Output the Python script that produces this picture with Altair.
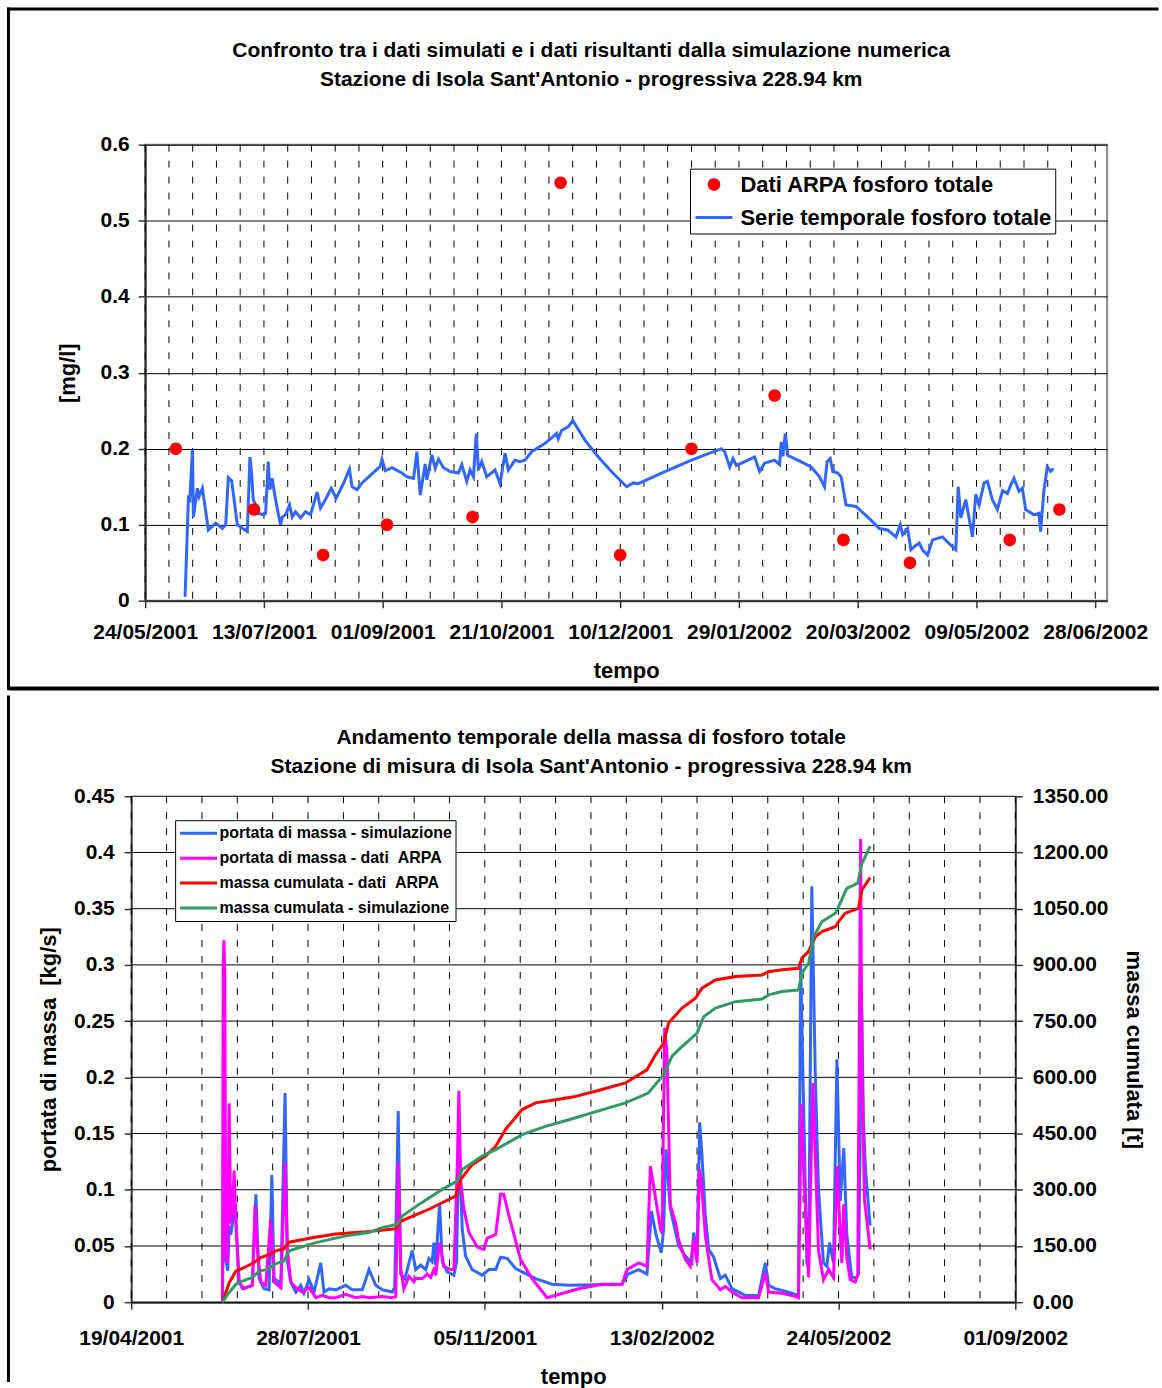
import altair as alt
import pandas as pd

FONT = "Liberation Sans"

# ---------------------------------------------------------------- top chart data
TOP_BASE = "2001-05-24"
top_tick_days = [0, 50, 100, 150, 200, 250, 300, 350, 400]
top_grid_days = list(range(0, 401, 10))
top_domain_days = [0, 405]
top_y_ticks = [0, 0.1, 0.2, 0.3, 0.4, 0.5, 0.6]
top_series = ["Dati ARPA fosforo totale", "Serie temporale fosforo totale"]
top_colors = ["#FF0000", "#3366FF"]

arpa_days = [12.9, 45.8, 74.9, 101.8, 137.8, 174.9, 200.0, 230.0, 265.0, 294.0, 322.0, 364.0, 384.9]
arpa_vals = [0.20, 0.12, 0.06, 0.10, 0.11, 0.55, 0.06, 0.20, 0.27, 0.08, 0.05, 0.08, 0.12]

serie_days = [16.8, 18.2, 18.8, 19.9, 20.3, 22.0, 22.7, 24.1, 26.6, 29.7, 32.5, 33.9, 35.0, 36.4,
              38.8, 40.2, 43.0, 44.1, 44.8, 45.5, 46.5, 47.2, 50.0, 50.7, 51.8, 52.5, 53.5, 54.2,
              54.9, 56.3, 57.0, 57.7, 59.1, 60.8, 61.9, 63.3, 65.4, 67.5, 69.6, 72.4, 73.8, 75.9,
              78.3, 80.4, 83.6, 86.0, 87.1, 89.2, 91.3, 95.5, 99.0, 99.7, 101.1, 103.9, 108.1,
              110.2, 113.0, 114.4, 115.8, 117.9, 118.6, 120.7, 122.1, 123.5, 125.6, 128.4, 131.9,
              133.3, 135.4, 136.8, 138.2, 139.4, 140.3, 141.7, 143.8, 147.3, 149.4, 151.5, 152.9,
              155.7, 157.8, 159.9, 162.7, 168.4, 173.2, 173.9, 175.3, 178.2, 180.0, 185.2, 190.8,
              196.3, 202.7, 205.5, 207.6, 217.4, 230.0, 242.6, 244.0, 246.1, 247.5, 248.9, 252.4,
              256.6, 258.7, 260.8, 265.0, 267.1, 267.8, 268.5, 269.5, 270.6, 274.8, 280.4, 283.9,
              286.0, 287.1, 288.4, 289.5, 291.6, 293.0, 295.1, 299.3, 305.6, 309.1, 312.6, 316.1,
              317.9, 318.9, 321.0, 322.4, 323.8, 325.9, 327.3, 329.4, 331.5, 335.7, 339.2, 341.3,
              342.3, 343.4, 345.5, 348.3, 349.7, 351.1, 353.2, 354.6, 356.7, 358.8, 361.0, 363.0,
              364.4, 365.8, 367.9, 369.3, 370.7, 374.2, 376.3, 377.0, 378.4, 379.8, 381.2, 382.4]
serie_vals = [0.005, 0.135, 0.133, 0.199, 0.110, 0.148, 0.137, 0.148, 0.093, 0.102, 0.095, 0.100, 0.162, 0.158,
              0.100, 0.097, 0.091, 0.189, 0.168, 0.133, 0.126, 0.115, 0.113, 0.115, 0.183, 0.146, 0.161, 0.146,
              0.133, 0.110, 0.100, 0.110, 0.113, 0.126, 0.110, 0.117, 0.109, 0.117, 0.113, 0.143, 0.122, 0.133,
              0.148, 0.135, 0.155, 0.173, 0.150, 0.146, 0.155, 0.167, 0.177, 0.186, 0.171, 0.175, 0.168,
              0.163, 0.161, 0.196, 0.139, 0.180, 0.159, 0.192, 0.174, 0.186, 0.175, 0.170, 0.168,
              0.179, 0.157, 0.172, 0.163, 0.220, 0.172, 0.183, 0.163, 0.172, 0.154, 0.194, 0.172,
              0.185, 0.183, 0.185, 0.196, 0.207, 0.220, 0.213, 0.224, 0.229, 0.237, 0.211, 0.189,
              0.170, 0.150, 0.155, 0.154, 0.168, 0.185, 0.200, 0.196, 0.176, 0.187, 0.178, 0.183,
              0.189, 0.170, 0.181, 0.185, 0.179, 0.209, 0.190, 0.220, 0.191, 0.185, 0.176, 0.163,
              0.150, 0.183, 0.187, 0.170, 0.168, 0.163, 0.126, 0.124, 0.106, 0.095, 0.093, 0.084,
              0.100, 0.087, 0.095, 0.067, 0.071, 0.076, 0.067, 0.060, 0.080, 0.084, 0.073, 0.067,
              0.150, 0.109, 0.133, 0.084, 0.140, 0.126, 0.155, 0.157, 0.133, 0.120, 0.145, 0.141,
              0.152, 0.161, 0.144, 0.148, 0.120, 0.113, 0.115, 0.091, 0.145, 0.176, 0.170, 0.174]

# ---------------------------------------------------------------- bottom chart data
BOT_BASE = "2001-04-19"
bot_tick_days = [0, 100, 200, 300, 400, 500]
bot_grid_days = list(range(0, 501, 20))
bot_domain_days = [0, 500]
bot_left_ticks = [0, 0.05, 0.1, 0.15, 0.2, 0.25, 0.3, 0.35, 0.4, 0.45]
bot_right_ticks = [0, 150, 300, 450, 600, 750, 900, 1050, 1200, 1350]
bot_series = ["portata di massa - simulazione", "portata di massa - dati \u00a0ARPA",
              "massa cumulata - dati \u00a0ARPA", "massa cumulata - simulazione"]
bot_colors = ["#3366FF", "#FF00FF", "#FF0000", "#339966"]

sim_days = [51.6, 52.4, 53.5, 54.6, 55.4, 56.3, 57.2, 58.8, 61.0, 62.9, 68.5, 70.5, 72.3, 75.1, 78.0,
            79.5, 80.8, 83.6, 84.6, 87.0, 88.3, 90.2, 93.1, 95.9, 97.7, 100.6, 103.4, 107.2, 109.0,
            111.9, 115.7, 121.3, 125.0, 130.7, 134.5, 138.3, 142.0, 147.6, 149.0, 151.0, 152.4, 154.8,
            157.1, 158.9, 160.9, 163.7, 166.5, 168.4, 170.2, 171.2, 172.2, 174.4, 175.9, 178.7, 182.5,
            184.0, 185.3, 187.2, 189.1, 192.8, 198.5, 202.3, 206.1, 208.9, 212.6, 217.4, 221.1, 228.7,
            238.0, 247.5, 277.6, 281.0, 287.0, 291.7, 294.2, 296.8, 299.8, 301.1, 302.4, 304.9, 309.6,
            313.4, 317.1, 318.1, 320.0, 321.5, 322.8, 324.7, 326.6, 329.4, 333.2, 336.0, 339.7, 347.3,
            354.8, 358.6, 360.5, 364.2, 371.8, 377.4, 378.6, 380.2, 382.1, 383.1, 384.9, 386.9, 388.7,
            391.5, 393.4, 394.9, 397.2, 399.1, 401.0, 403.0, 404.7, 407.5, 410.4, 411.3, 413.2, 414.1,
            415.4, 417.9]
sim_vals = [0.002, 0.118, 0.037, 0.028, 0.068, 0.060, 0.070, 0.088, 0.018, 0.012, 0.015, 0.096, 0.021, 0.012, 0.011,
            0.113, 0.021, 0.018, 0.012, 0.186, 0.037, 0.018, 0.009, 0.015, 0.008, 0.020, 0.009, 0.035, 0.009,
            0.012, 0.011, 0.015, 0.011, 0.011, 0.029, 0.015, 0.011, 0.009, 0.013, 0.170, 0.025, 0.021,
            0.035, 0.046, 0.029, 0.033, 0.029, 0.039, 0.036, 0.053, 0.033, 0.088, 0.036, 0.027, 0.024,
            0.036, 0.148, 0.065, 0.041, 0.029, 0.024, 0.029, 0.029, 0.040, 0.039, 0.030, 0.027, 0.021,
            0.016, 0.015, 0.016, 0.025, 0.029, 0.025, 0.081, 0.060, 0.044, 0.065, 0.136, 0.083, 0.050,
            0.041, 0.035, 0.062, 0.041, 0.160, 0.130, 0.077, 0.047, 0.040, 0.021, 0.024, 0.012, 0.006,
            0.006, 0.035, 0.015, 0.012, 0.009, 0.006, 0.300, 0.180, 0.035, 0.030, 0.370, 0.200, 0.100,
            0.035, 0.032, 0.053, 0.035, 0.216, 0.090, 0.137, 0.060, 0.022, 0.022, 0.025, 0.260, 0.160,
            0.115, 0.068]

arpa_flow_days = [51.6, 52.0, 52.4, 52.9, 53.5, 54.4, 55.4, 56.3, 57.2, 58.2, 59.2, 61.0, 63.8, 68.5,
                  70.1, 71.4, 73.3, 76.1, 78.9, 80.8, 84.6, 87.0, 88.3, 90.2, 93.1, 96.8, 100.6, 104.4,
                  108.1, 111.9, 115.7, 121.3, 127.0, 130.7, 134.5, 142.0, 147.6, 149.6, 151.0, 152.4,
                  154.2, 157.1, 159.9, 160.9, 164.6, 167.4, 169.3, 171.2, 172.2, 174.4, 176.8, 180.6,
                  182.5, 184.4, 185.3, 186.3, 188.1, 191.0, 195.7, 199.4, 201.3, 206.1, 208.9, 210.7,
                  213.6, 220.2, 226.7, 235.2, 253.1, 266.3, 277.6, 280.4, 287.0, 291.7, 293.6, 295.5,
                  299.3, 300.2, 301.7, 303.0, 304.9, 307.8, 309.6, 313.4, 316.2, 318.1, 320.0, 321.3,
                  322.8, 324.7, 328.4, 333.2, 336.0, 339.7, 345.4, 354.8, 358.6, 360.5, 368.0, 373.6,
                  377.4, 378.9, 380.8, 383.1, 385.5, 386.9, 388.7, 391.5, 394.4, 397.2, 399.3, 401.0,
                  401.9, 403.0, 404.7, 406.6, 409.5, 410.9, 412.5, 413.2, 414.7, 416.6, 417.9]
arpa_flow_vals = [0.000, 0.296, 0.322, 0.296, 0.041, 0.034, 0.177, 0.070, 0.080, 0.117, 0.070, 0.018, 0.012, 0.015,
                  0.086, 0.045, 0.018, 0.015, 0.074, 0.018, 0.013, 0.124, 0.047, 0.018, 0.013, 0.009, 0.013, 0.004,
                  0.006, 0.004, 0.004, 0.007, 0.004, 0.005, 0.004, 0.005, 0.004, 0.005, 0.124, 0.030,
                  0.012, 0.023, 0.018, 0.021, 0.021, 0.025, 0.022, 0.029, 0.024, 0.053, 0.032, 0.029,
                  0.029, 0.121, 0.188, 0.108, 0.083, 0.062, 0.049, 0.047, 0.057, 0.060, 0.096, 0.096,
                  0.077, 0.038, 0.021, 0.004, 0.012, 0.016, 0.016, 0.029, 0.035, 0.032, 0.121, 0.103,
                  0.065, 0.062, 0.244, 0.220, 0.086, 0.071, 0.055, 0.038, 0.032, 0.056, 0.035, 0.118,
                  0.100, 0.059, 0.020, 0.011, 0.014, 0.009, 0.004, 0.004, 0.026, 0.009, 0.008, 0.006,
                  0.004, 0.176, 0.100, 0.022, 0.195, 0.130, 0.046, 0.020, 0.029, 0.022, 0.121, 0.060,
                  0.035, 0.087, 0.040, 0.020, 0.018, 0.025, 0.412, 0.219, 0.091, 0.065, 0.047]

cum_arpa_days = [51.6, 55.4, 59.2, 63.8, 69.5, 73.3, 78.9, 81.8, 86.4, 89.3, 102.4, 115.7, 130.7, 149.6,
                 152.4, 168.4, 177.8, 183.5, 186.3, 192.8, 200.4, 206.1, 211.7, 221.1, 228.7, 240.0,
                 250.3, 262.6, 279.5, 291.7, 296.5, 301.1, 303.9, 311.5, 319.1, 322.8, 330.4, 341.7,
                 356.7, 360.5, 368.0, 377.4, 379.3, 383.1, 386.9, 390.6, 398.2, 400.0, 403.8, 411.3,
                 413.2, 417.9]
cum_arpa_vals = [0, 52, 83, 92, 106, 119, 128, 137, 143, 160, 172, 182, 187, 196,
                 216, 248, 270, 283, 327, 367, 390, 416, 461, 514, 532, 540,
                 548, 563, 585, 620, 660, 691, 745, 785, 811, 838, 860, 869,
                 873, 882, 887, 891, 918, 936, 975, 989, 1002, 1015, 1038, 1051,
                 1100, 1133]

cum_sim_days = [51.6, 55.4, 59.2, 62.0, 68.5, 72.3, 78.0, 80.8, 86.4, 89.3, 104.4, 121.3, 134.5, 142.0,
                150.5, 153.3, 162.7, 175.9, 184.4, 187.2, 198.5, 206.1, 221.1, 234.3, 247.5, 279.5,
                292.4, 301.1, 305.8, 309.6, 320.0, 323.8, 330.4, 341.7, 356.7, 360.5, 368.0, 377.4,
                379.3, 383.1, 385.9, 390.6, 398.2, 400.0, 404.7, 410.9, 413.2, 417.9]
cum_sim_vals = [0, 26, 48, 55, 66, 83, 88, 101, 110, 137, 159, 177, 186, 199,
                208, 230, 261, 301, 323, 354, 390, 407, 447, 469, 487, 532,
                558, 607, 656, 674, 718, 762, 785, 802, 809, 820, 829, 833,
                878, 905, 975, 1015, 1038, 1055, 1104, 1118, 1170, 1217]


def ms(base, days):
    b = pd.Timestamp(base, tz="UTC")
    return [int((b + pd.Timedelta(days=float(d))).value // 1_000_000) for d in days]


# custom legend/point symbols: small dot and short thick bar
SYM_DOT = "M-0.34,0A0.34,0.34,0,1,1,0.34,0A0.34,0.34,0,1,1,-0.34,0Z"
SYM_BAR = "M-1,-0.085H1V0.085H-1Z"

one = pd.DataFrame({"k": [0]})

# ================================================================ TOP
arpa_df = pd.DataFrame({"t": ms(TOP_BASE, arpa_days), "v": arpa_vals, "s": top_series[0]})
serie_df = pd.DataFrame({"t": ms(TOP_BASE, serie_days), "v": serie_vals})
top_grid_df = pd.DataFrame({"t": ms(TOP_BASE, top_grid_days)})

x_top = alt.Scale(type="utc", domain=ms(TOP_BASE, top_domain_days), nice=False)
y_top = alt.Scale(domain=[0, 0.6], nice=False)

top_legend = alt.Legend(
    orient="none", legendX=546, legendY=24, title=None,
    strokeColor="black", fillColor="white", padding=3,
    symbolSize=1369, symbolStrokeWidth=0, symbolOffset=2.5, labelOffset=8,
    clipHeight=26, rowPadding=7,
    labelFont=FONT, labelFontSize=22, labelFontWeight="bold", labelColor="black", labelLimit=1000,
)

top_grid = alt.Chart(top_grid_df).mark_rule(color="black", strokeWidth=1, strokeDash=[7, 9]).encode(
    x=alt.X("t:T", scale=x_top),
)

top_line = alt.Chart(serie_df).mark_line(strokeWidth=3, color=top_colors[1]).encode(
    x=alt.X("t:T", scale=x_top),
    y=alt.Y("v:Q", scale=y_top),
)

top_pts = alt.Chart(arpa_df).mark_point(filled=True, size=1369, opacity=1, strokeWidth=0).encode(
    x=alt.X("t:T", scale=x_top, axis=alt.Axis(
        orient="bottom", values=ms(TOP_BASE, top_tick_days), format="%d/%m/%Y",
        grid=False, title="tempo", labelPadding=14, titlePadding=18, labelOverlap=False,
        labelFlush=False)),
    y=alt.Y("v:Q", scale=y_top, axis=alt.Axis(
        orient="left", values=top_y_ticks, format="~g", grid=True, gridColor="black", gridWidth=1,
        gridOpacity=1, title="[mg/l]", labelPadding=9, titlePadding=21, labelFlush=False)),
    color=alt.Color("s:N", scale=alt.Scale(domain=top_series, range=top_colors), legend=top_legend),
    shape=alt.Shape("s:N", scale=alt.Scale(domain=top_series, range=[SYM_DOT, SYM_BAR]), legend=top_legend),
)

top_frame_h = alt.Chart(one).mark_rule(color="black", strokeWidth=3, strokeCap="square").encode(
    x=alt.value(-137), x2=alt.value(1014), y=alt.value(-136))
top_frame_v = alt.Chart(one).mark_rule(color="black", strokeWidth=3, strokeCap="square").encode(
    x=alt.value(-137), y=alt.value(-136), y2=alt.value(545))
top_sep = alt.Chart(one).mark_rule(color="black", strokeWidth=4).encode(
    x=alt.value(-137), x2=alt.value(1016), y=alt.value(545))

top_chart = alt.layer(top_frame_h, top_frame_v, top_sep, top_grid, top_line, top_pts).properties(
    width=964, height=457,
    title=alt.TitleParams(
        text=["Confronto tra i dati simulati e i dati risultanti dalla simulazione numerica",
              "Stazione di Isola Sant'Antonio - progressiva 228.94 km"],
        anchor="middle", frame="group", dx=-35, offset=-83,
        font=FONT, fontSize=21, fontWeight="bold", color="black", lineHeight=29),
)

# ================================================================ BOTTOM
# plot area spans 14 px left of the group origin (shared with the top panel)
BW = 872
sim_df = pd.DataFrame({"t": ms(BOT_BASE, sim_days), "v": sim_vals, "s": bot_series[0]})
aflow_df = pd.DataFrame({"t": ms(BOT_BASE, arpa_flow_days), "v": arpa_flow_vals})
carpa_df = pd.DataFrame({"t": ms(BOT_BASE, cum_arpa_days), "v": cum_arpa_vals})
csim_df = pd.DataFrame({"t": ms(BOT_BASE, cum_sim_days), "v": cum_sim_vals})
bot_grid_df = pd.DataFrame({"t": ms(BOT_BASE, bot_grid_days)})
t_lo, t_hi = ms(BOT_BASE, bot_domain_days)
bot_hgrid_df = pd.DataFrame({"v": bot_left_ticks, "t0": t_lo, "t1": t_hi})

x_bot = alt.Scale(type="utc", domain=[t_lo, t_hi], nice=False, range=[-14, BW])
y_left = alt.Scale(domain=[0, 0.45], nice=False)
y_right = alt.Scale(domain=[0, 1350], nice=False)
col_bot = alt.Scale(domain=bot_series, range=bot_colors)

bot_legend = alt.Legend(
    orient="none", legendX=30, legendY=24, title=None,
    strokeColor="black", fillColor="white", padding=3,
    symbolSize=1369, symbolStrokeWidth=3, symbolOffset=0.5, labelOffset=1,
    clipHeight=20, rowPadding=5, symbolType="stroke",
    labelFont=FONT, labelFontSize=16, labelFontWeight="bold", labelColor="black", labelLimit=1000,
)

bot_hgrid = alt.Chart(bot_hgrid_df).mark_rule(color="black", strokeWidth=1).encode(
    x=alt.X("t0:T", scale=x_bot),
    x2="t1:T",
    y=alt.Y("v:Q", scale=y_left),
)
bot_grid = alt.Chart(bot_grid_df).mark_rule(color="black", strokeWidth=1, strokeDash=[7, 9]).encode(
    x=alt.X("t:T", scale=x_bot),
)
blue = alt.Chart(sim_df).mark_line(strokeWidth=3).encode(
    x=alt.X("t:T", scale=x_bot, axis=alt.Axis(
        orient="bottom", values=ms(BOT_BASE, bot_tick_days), format="%d/%m/%Y",
        grid=False, title="tempo", labelPadding=18, titlePadding=18, labelOverlap=False,
        labelFlush=False)),
    y=alt.Y("v:Q", scale=y_left, axis=alt.Axis(
        orient="left", values=bot_left_ticks, format="~g", grid=False, offset=14,
        title="portata di massa \u00a0[kg/s]", labelPadding=10,
        titlePadding=13, labelFlush=False)),
    color=alt.Color("s:N", scale=col_bot, legend=bot_legend),
)
magenta = alt.Chart(aflow_df).mark_line(strokeWidth=3, color=bot_colors[1]).encode(
    x=alt.X("t:T", scale=x_bot),
    y=alt.Y("v:Q", scale=y_left),
)
red = alt.Chart(carpa_df).mark_line(strokeWidth=3, color=bot_colors[2]).encode(
    x=alt.X("t:T", scale=x_bot),
    y=alt.Y("v:Q", scale=y_right, axis=alt.Axis(
        orient="right", values=bot_right_ticks, format=".2f", grid=False,
        title="massa cumulata [t]", labelPadding=10, titlePadding=14, labelFlush=False)),
)
green = alt.Chart(csim_df).mark_line(strokeWidth=3, color=bot_colors[3]).encode(
    x=alt.X("t:T", scale=x_bot),
    y=alt.Y("v:Q", scale=y_right),
)

bot_frame_v = alt.Chart(one).mark_rule(color="black", strokeWidth=3).encode(
    x=alt.value(-137), y=alt.value(-101), y2=alt.value(587))

left_group = alt.layer(bot_hgrid, bot_grid, blue, magenta)
right_group = alt.layer(red, green)

bottom_chart = alt.layer(bot_frame_v, left_group, right_group).resolve_scale(
    y="independent"
).properties(
    width=BW, height=507,
    view=alt.ViewBackground(stroke="transparent"),
    title=alt.TitleParams(
        text=["Andamento temporale della massa di fosforo totale",
              "Stazione di misura di Isola Sant'Antonio - progressiva 228.94 km"],
        anchor="middle", frame="group", dx=11, offset=-83,
        font=FONT, fontSize=21, fontWeight="bold", color="black", lineHeight=29),
)

chart = alt.concat(top_chart, bottom_chart, columns=1, spacing=0).resolve_scale(
    color="independent", shape="independent"
).resolve_legend(
    color="independent", shape="independent"
).properties(
    padding={"left": 4.5, "top": 3.5, "right": 0, "bottom": 0},
    background="white",
).configure_view(
    stroke="#888888", strokeWidth=2
).configure_axis(
    labelFont=FONT, labelFontSize=21, labelFontWeight="bold", labelColor="black",
    titleFont=FONT, titleFontSize=22, titleFontWeight="bold", titleColor="black",
    tickColor="#333333", tickWidth=1.5, tickSize=7, domainColor="#333333", domainWidth=2,
    labelFlush=False,
)

chart.save("out.html", embed_options={"renderer": "svg", "actions": False})
